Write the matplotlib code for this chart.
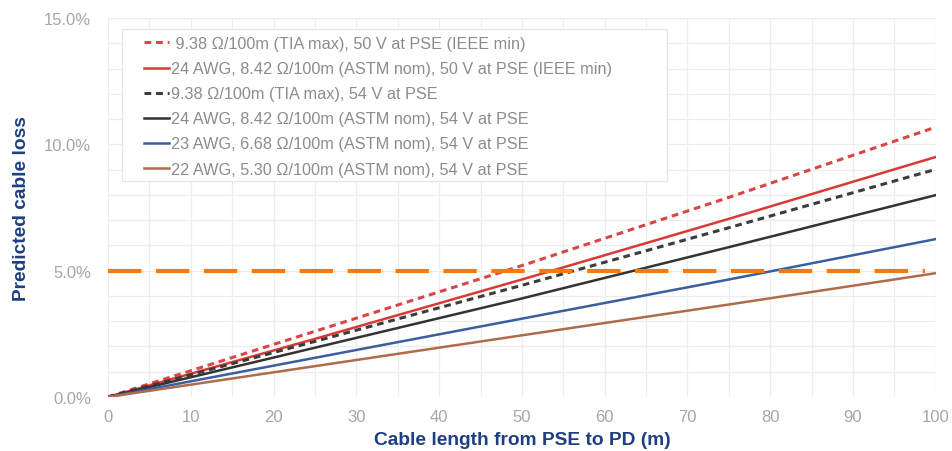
import numpy as np
import matplotlib.pyplot as plt
from matplotlib.patches import Rectangle
from matplotlib.ticker import MultipleLocator, FuncFormatter

plt.rcParams['font.family'] = ['Liberation Sans', 'DejaVu Sans']

# Data (cable length in m, loss in %)
length_m = [0, 25, 50, 75, 100]
tia_50v = [0, 2.6, 5.2, 7.9, 10.68]
awg24_50v = [0, 2.3, 4.65, 7.05, 9.5]
tia_54v = [0, 2.2, 4.42, 6.7, 9.01]
awg24_54v = [0, 1.95, 3.9, 5.93, 7.99]
awg23_54v = [0, 1.55, 3.1, 4.65, 6.25]
awg22_54v = [0, 1.22, 2.44, 3.66, 4.9]
limit_x = [0, 98.7]
limit_pct = 5.0

labels = [
    " 9.38 \u03a9/100m (TIA max), 50 V at PSE (IEEE min)",
    "24 AWG, 8.42 \u03a9/100m (ASTM nom), 50 V at PSE (IEEE min)",
    "9.38 \u03a9/100m (TIA max), 54 V at PSE",
    "24 AWG, 8.42 \u03a9/100m (ASTM nom), 54 V at PSE",
    "23 AWG, 6.68 \u03a9/100m (ASTM nom), 54 V at PSE",
    "22 AWG, 5.30 \u03a9/100m (ASTM nom), 54 V at PSE",
]

fig = plt.figure(figsize=(9.53, 4.52), dpi=100)
ax = fig.add_axes([0.1133, 0.1195, 0.8687, 0.8385])

ax.plot(length_m, tia_50v, '--', color='#DA4545', lw=2.2, dashes=(2.2, 1.6), label=labels[0])
ax.plot(length_m, awg24_50v, '-', color='#DA3A35', lw=1.8, label=labels[1])
ax.plot(length_m, tia_54v, '--', color='#3C3C3C', lw=2.2, dashes=(2.2, 1.6), label=labels[2])
ax.plot(length_m, awg24_54v, '-', color='#333333', lw=1.8, label=labels[3])
ax.plot(length_m, awg23_54v, '-', color='#3A5E9E', lw=1.8, label=labels[4])
ax.plot(length_m, awg22_54v, '-', color='#B06A4C', lw=1.8, label=labels[5])

ax.plot(limit_x, [limit_pct, limit_pct], color='#F47A0C', lw=3, dashes=(8, 3.5))

ax.set_xlim(0, 100)
ax.set_ylim(0, 15)
ax.xaxis.set_major_locator(MultipleLocator(10))
ax.xaxis.set_minor_locator(MultipleLocator(5))
ax.yaxis.set_major_locator(MultipleLocator(5))
ax.yaxis.set_minor_locator(MultipleLocator(1))
ax.yaxis.set_major_formatter(FuncFormatter(lambda v, p: f"{v:.1f}%"))
ax.grid(True, which='both', color='#EDEDED', lw=0.9)
ax.set_axisbelow(True)
for s in ax.spines.values():
    s.set_visible(False)
ax.tick_params(which='both', length=0, colors='#A6A6A6', labelsize=12)
ax.tick_params(axis='y', pad=12)
ax.tick_params(axis='x', pad=9)

ax.set_xlabel("Cable length from PSE to PD (m)", fontsize=13.8, fontweight='bold',
              color='#1E3F80', labelpad=5)
ax.set_ylabel("Predicted cable loss", fontsize=13.8, fontweight='bold',
              color='#1E3F80', labelpad=10)

# legend box drawn separately so the left/right padding can differ
box = Rectangle((0.0169, 0.571), 0.658, 0.400, transform=ax.transAxes,
                facecolor='white', edgecolor='#E6E6E6', lw=0.9, zorder=4)
ax.add_patch(box)
leg = ax.legend(loc='upper left', bbox_to_anchor=(0.043, 0.952), fontsize=11.7,
                frameon=False, handlelength=1.55, handletextpad=0.15,
                labelspacing=0.62, borderpad=0.0, borderaxespad=0.0,
                labelcolor='#8C8C8C')
leg.set_zorder(5)

plt.savefig("out.png", dpi=100)
